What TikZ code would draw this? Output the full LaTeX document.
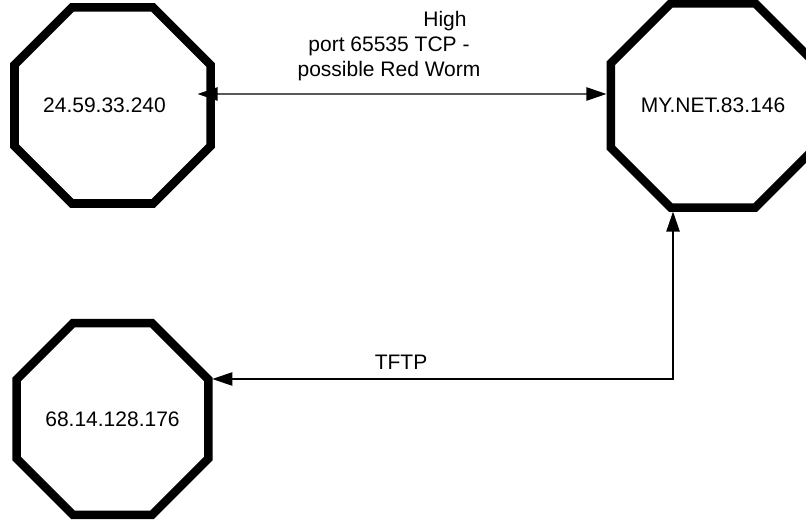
\documentclass[tikz,border=0pt]{standalone}
\usepackage{fontspec}
\setmainfont{Liberation Sans}
\usetikzlibrary{arrows.meta,positioning,shapes.geometric,calc}

\tikzset{
  host/.style={regular polygon, regular polygon sides=8, draw, line width=6.4pt,
    minimum size=155.5pt, inner sep=0pt, outer sep=0pt,
    font=\fontsize{15.75}{18.75}\selectfont},
  link/.style={<->, line width=1pt},
  linklabel/.style={font=\fontsize{15.75}{18.75}\selectfont, align=center, inner sep=0pt}
}

\begin{document}
\begin{tikzpicture}[x=0.75pt, y=-0.75pt, >={Triangle[length=15pt,width=10pt]}]
  \useasboundingbox (0,0) rectangle (806,520);
  % --- hosts ---
  \node[host] (src) at (112.5,105.5) {24.59.33.240\hspace*{12pt}};
  \node[host] (mynet) at (713,105.5) {MY.NET.83.146};
  \node[host] (tftp) at (112.5,419) {68.14.128.176};
  % --- connections ---
  \draw[link] ($(src.east)+(-13,-11.5)$) -- ($(mynet.west)+(-4.5,-11.5)$);
  \node[linklabel] (worm) at (389,46) {\hspace*{84pt}High\\port 65535 TCP -\\possible Red Worm};
  \draw[link] ($(tftp.east)+(4,-40)$) -| ($(mynet.south)+(-40,4)$);
  \node[linklabel] (tftplbl) at (401,362) {TFTP};
\end{tikzpicture}
\end{document}
